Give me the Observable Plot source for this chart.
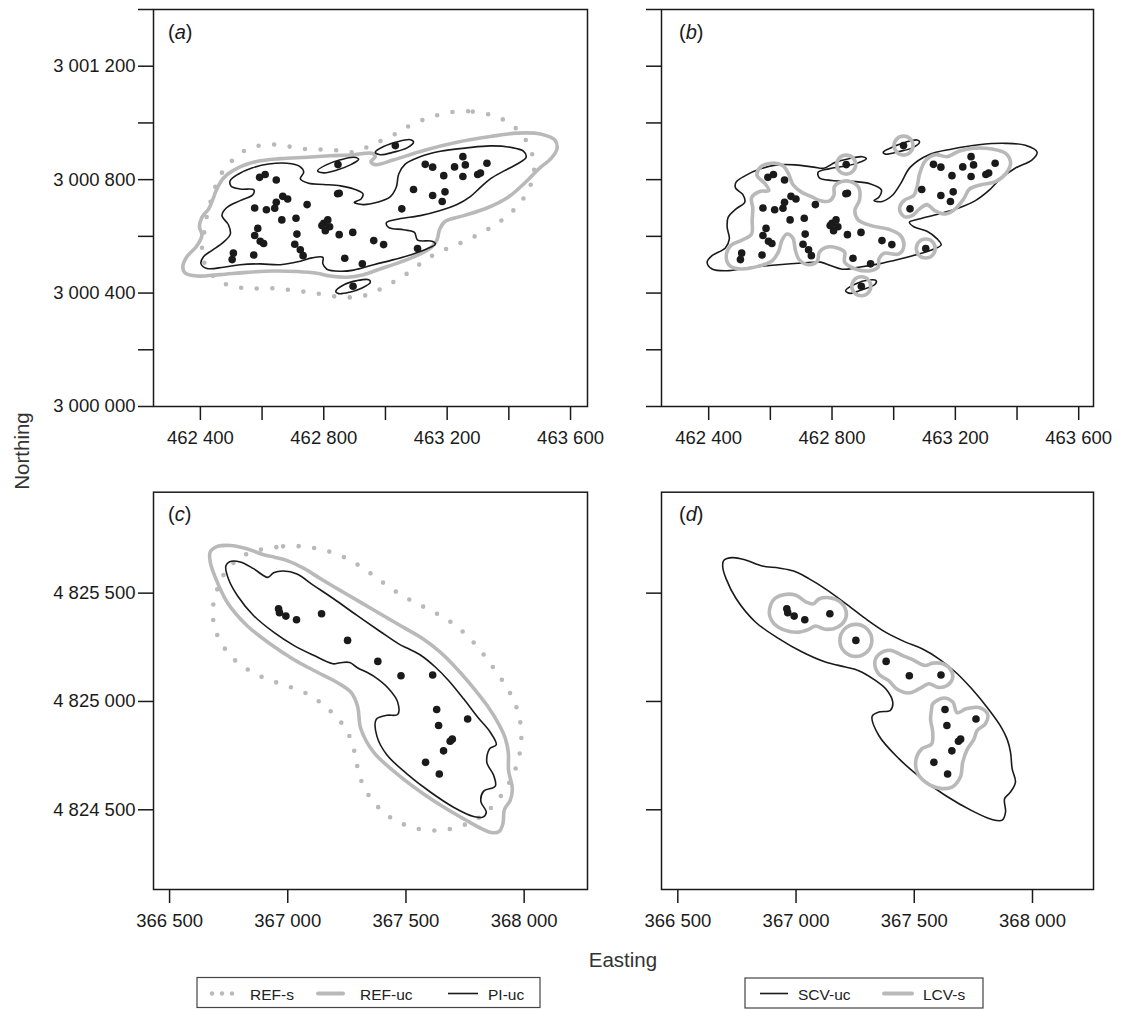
<!DOCTYPE html>
<html><head><meta charset="utf-8">
<script src="https://cdn.jsdelivr.net/npm/d3@7"></script>
<script src="https://cdn.jsdelivr.net/npm/@observablehq/plot@0.6"></script>
<style>
html,body{margin:0;padding:0;background:#fff;}
#fig{position:relative;width:1126px;height:1009px;overflow:hidden;background:#fff;font-family:"Liberation Sans",Arial,sans-serif;}
#fig > svg{position:absolute;}
</style></head><body><div id="fig"></div>
<script>
// ---------- tick values ----------
const xTicksAB = [462400, 462600, 462800, 463000, 463200, 463400, 463600];
const xLabelsAB = [462400, 462800, 463200, 463600];
const yTicksAB = [3000000, 3000200, 3000400, 3000600, 3000800, 3001000, 3001200, 3001400];
const yLabelsAB = [3000000, 3000400, 3000800, 3001200];
const xTicksCD = [366500, 367000, 367500, 368000];
const yTicksCD = [4824500, 4825000, 4825500];

// ---------- relocation points (Easting, Northing) ----------
const pointsAB = [[463032,3000920],[462846,3000853],[462895,3000424],[462592,3000808],[462610,3000818],[462646,3000799],[462845,3000750],[462850,3000752],[462667,3000741],[462683,3000732],[462646,3000720],[462641,3000699],[462576,3000700],[462614,3000694],[462746,3000712],[462664,3000658],[462710,3000664],[462586,3000628],[462576,3000603],[462594,3000583],[462605,3000575],[462713,3000608],[462706,3000572],[462724,3000553],[462733,3000532],[462573,3000534],[462507,3000541],[462503,3000518],[462800,3000646],[462813,3000658],[462819,3000634],[462805,3000620],[462794,3000638],[462850,3000606],[462894,3000614],[462868,3000523],[462925,3000503],[462962,3000585],[462994,3000571],[463104,3000557],[463053,3000697],[463091,3000765],[463129,3000854],[463153,3000844],[463189,3000814],[463224,3000845],[463251,3000881],[463259,3000852],[463251,3000811],[463299,3000818],[463308,3000823],[463329,3000858],[463153,3000744],[463193,3000757],[463184,3000723]];
const pointsCD = [[366961,4825428],[366965,4825410],[366992,4825394],[367037,4825377],[367143,4825405],[367253,4825282],[367381,4825185],[367479,4825119],[367613,4825122],[367630,4824963],[367638,4824889],[367761,4824919],[367687,4824816],[367696,4824826],[367659,4824772],[367583,4824719],[367641,4824665]];

// ---------- panel (a) contours ----------
const refS_a = [[463230,3001040],[463283,3001040],[463335,3001030],[463383,3001011],[463427,3000977],[463459,3000932],[463478,3000879],[463481,3000820],[463464,3000765],[463437,3000718],[463400,3000677],[463356,3000641],[463311,3000612],[463264,3000587],[463216,3000564],[463167,3000541],[463124,3000512],[463081,3000477],[463037,3000446],[462991,3000418],[462942,3000394],[462891,3000385],[462837,3000388],[462787,3000397],[462735,3000405],[462681,3000412],[462630,3000417],[462576,3000416],[462524,3000420],[462473,3000436],[462432,3000471],[462405,3000534],[462410,3000591],[462417,3000650],[462434,3000726],[462464,3000814],[462495,3000858],[462535,3000897],[462583,3000918],[462635,3000924],[462686,3000917],[462738,3000908],[462792,3000906],[462846,3000903],[462897,3000897],[462962,3000926],[463032,3000961],[463078,3000990],[463127,3001013],[463178,3001030]];
const refUC_a = [[462343,3000491],[462356,3000528],[462387,3000564],[462405,3000603],[462397,3000634],[462405,3000667],[462427,3000697],[462441,3000732],[462452,3000764],[462475,3000806],[462519,3000840],[462583,3000864],[462659,3000874],[462746,3000879],[462821,3000884],[462897,3000888],[462956,3000893],[462967,3000881],[462953,3000864],[462967,3000853],[463027,3000870],[463124,3000903],[463232,3000932],[463340,3000952],[463427,3000964],[463502,3000961],[463549,3000940],[463556,3000908],[463537,3000875],[463497,3000838],[463454,3000791],[463400,3000740],[463329,3000700],[463254,3000673],[463194,3000653],[463176,3000626],[463167,3000587],[463151,3000564],[463113,3000538],[463048,3000509],[462983,3000485],[462929,3000465],[462875,3000456],[462821,3000460],[462778,3000470],[462713,3000476],[462637,3000478],[462551,3000473],[462464,3000465],[462389,3000460],[462351,3000470]];
const piUC_a = [[462402,3000503],[462410,3000528],[462437,3000550],[462473,3000578],[462497,3000608],[462491,3000641],[462470,3000673],[462484,3000700],[462529,3000726],[462570,3000747],[462573,3000764],[462529,3000767],[462499,3000778],[462497,3000797],[462524,3000820],[462567,3000841],[462621,3000855],[462681,3000858],[462722,3000847],[462735,3000826],[462724,3000803],[462751,3000787],[462800,3000783],[462854,3000778],[462897,3000767],[462927,3000750],[462921,3000732],[462899,3000720],[462927,3000712],[462973,3000720],[463014,3000738],[463035,3000773],[463043,3000820],[463064,3000855],[463108,3000879],[463178,3000900],[463264,3000912],[463340,3000919],[463405,3000914],[463448,3000900],[463456,3000879],[463427,3000855],[463383,3000830],[463340,3000803],[463306,3000771],[463275,3000740],[463232,3000712],[463178,3000691],[463113,3000673],[463043,3000661],[463003,3000648],[463010,3000632],[463059,3000623],[463094,3000614],[463104,3000587],[463151,3000583],[463162,3000573],[463135,3000556],[463086,3000536],[463027,3000518],[462962,3000500],[462897,3000481],[462854,3000477],[462810,3000484],[462797,3000503],[462797,3000526],[462762,3000524],[462724,3000512],[462659,3000500],[462594,3000503],[462529,3000500],[462475,3000491],[462421,3000487]];
const piUC_a_isl1 = [[462967,3000897],[462994,3000917],[463037,3000933],[463081,3000941],[463091,3000933],[463070,3000912],[463027,3000897],[462983,3000888]];
const piUC_a_isl2 = [[462780,3000832],[462810,3000853],[462854,3000870],[462897,3000879],[462913,3000872],[462886,3000852],[462843,3000834],[462800,3000824]];
const piUC_a_isl3 = [[462839,3000406],[462867,3000430],[462908,3000444],[462946,3000447],[462951,3000438],[462924,3000418],[462884,3000403],[462848,3000398]];

// ---------- panel (b) contours ----------
const scvUC_b = [[462395,3000509],[462411,3000532],[462454,3000559],[462467,3000591],[462460,3000632],[462463,3000667],[462489,3000697],[462517,3000720],[462511,3000747],[462487,3000771],[462489,3000791],[462519,3000814],[462568,3000838],[462622,3000852],[462681,3000852],[462741,3000844],[462773,3000840],[462811,3000861],[462854,3000874],[462898,3000881],[462911,3000874],[462887,3000860],[462844,3000848],[462790,3000838],[462755,3000826],[462759,3000806],[462800,3000797],[462865,3000794],[462925,3000785],[462960,3000764],[462952,3000738],[462936,3000726],[462963,3000723],[462995,3000744],[463022,3000785],[463054,3000844],[463114,3000888],[463190,3000908],[463276,3000923],[463363,3000928],[463427,3000921],[463465,3000897],[463449,3000870],[463395,3000841],[463346,3000803],[463308,3000761],[463265,3000726],[463211,3000700],[463146,3000679],[463081,3000661],[463051,3000650],[463065,3000634],[463108,3000618],[463141,3000591],[463154,3000570],[463125,3000553],[463076,3000536],[463017,3000519],[462952,3000503],[462887,3000491],[462833,3000484],[462795,3000497],[462763,3000509],[462703,3000506],[462627,3000500],[462541,3000491],[462465,3000479],[462411,3000485]];
const scvUC_b_isl1 = [[462966,3000897],[462995,3000914],[463038,3000932],[463076,3000940],[463084,3000933],[463060,3000912],[463017,3000899],[462973,3000890]];
const scvUC_b_isl2 = [[462844,3000408],[462876,3000432],[462919,3000446],[462943,3000444],[462939,3000430],[462900,3000413],[462860,3000399]];
const lcvS_b_main = [[462457,3000526],[462471,3000567],[462509,3000587],[462539,3000608],[462541,3000656],[462543,3000700],[462539,3000736],[462568,3000759],[462595,3000761],[462582,3000787],[462557,3000814],[462568,3000844],[462604,3000858],[462640,3000850],[462658,3000823],[462673,3000783],[462701,3000756],[462733,3000740],[462763,3000726],[462790,3000724],[462806,3000744],[462808,3000776],[462831,3000793],[462860,3000793],[462887,3000771],[462889,3000728],[462874,3000691],[462885,3000658],[462930,3000637],[462984,3000625],[463022,3000603],[463033,3000567],[463017,3000538],[462968,3000540],[462952,3000520],[462950,3000493],[462925,3000479],[462876,3000485],[462841,3000509],[462841,3000544],[462817,3000559],[462779,3000561],[462759,3000544],[462752,3000512],[462725,3000500],[462694,3000517],[462681,3000552],[462673,3000594],[462654,3000608],[462638,3000587],[462627,3000547],[462606,3000514],[462562,3000495],[462508,3000485],[462471,3000494]];
const lcvS_b_right = [[463019,3000697],[463033,3000726],[463065,3000744],[463076,3000776],[463084,3000820],[463103,3000867],[463135,3000888],[463173,3000881],[463211,3000900],[463260,3000911],[463319,3000908],[463363,3000893],[463379,3000861],[463365,3000823],[463330,3000793],[463281,3000781],[463246,3000767],[463227,3000732],[463200,3000697],[463168,3000679],[463133,3000691],[463108,3000712],[463084,3000697],[463060,3000673],[463033,3000670]];
const lcvS_b_circles = [[463032,3000920],[462846,3000853],[462895,3000424],[463104,3000557]];

// ---------- panel (c) contours ----------
const refS_c = [[366912,4825705],[366980,4825716],[367047,4825717],[367115,4825708],[367181,4825690],[367246,4825662],[367305,4825625],[367362,4825582],[367418,4825537],[367476,4825494],[367535,4825459],[367596,4825425],[367656,4825390],[367713,4825348],[367765,4825297],[367810,4825243],[367852,4825182],[367893,4825120],[367930,4825059],[367962,4824989],[367981,4824920],[367988,4824843],[367983,4824771],[367966,4824697],[367938,4824628],[367903,4824566],[367859,4824508],[367800,4824458],[367741,4824428],[367673,4824409],[367607,4824405],[367539,4824415],[367476,4824440],[367417,4824478],[367367,4824531],[367329,4824591],[367302,4824662],[367288,4824736],[367273,4824806],[367243,4824877],[367199,4824936],[367150,4824985],[367094,4825028],[367030,4825059],[366965,4825083],[366901,4825108],[366839,4825142],[366782,4825185],[366737,4825239],[366703,4825303],[366685,4825373],[366685,4825448],[366703,4825522],[366736,4825597],[366792,4825659],[366853,4825693]];
const refUC_c = [[366672,4825690],[366703,4825716],[366757,4825720],[366827,4825705],[366898,4825677],[366947,4825665],[367003,4825648],[367070,4825613],[367144,4825563],[367229,4825508],[367314,4825454],[367398,4825400],[367483,4825346],[367567,4825293],[367645,4825228],[367718,4825148],[367786,4825062],[367845,4824979],[367892,4824897],[367920,4824831],[367933,4824763],[367934,4824682],[367950,4824597],[367941,4824543],[367917,4824502],[367910,4824435],[367896,4824402],[367868,4824394],[367821,4824412],[367751,4824454],[367666,4824508],[367567,4824579],[367462,4824666],[367363,4824766],[367309,4824874],[367295,4824979],[367267,4825043],[367211,4825086],[367123,4825136],[367025,4825194],[366926,4825265],[366827,4825351],[366745,4825456],[366693,4825574],[366672,4825644]];
const piUC_c = [[366738,4825625],[366754,4825645],[366799,4825644],[366855,4825613],[366916,4825573],[366940,4825594],[366982,4825602],[367039,4825588],[367109,4825536],[367194,4825474],[367293,4825397],[367391,4825323],[367469,4825266],[367511,4825243],[367567,4825210],[367624,4825159],[367680,4825097],[367744,4825012],[367803,4824928],[367856,4824859],[367882,4824800],[367854,4824782],[367842,4824720],[367871,4824659],[367878,4824609],[367828,4824585],[367817,4824538],[367840,4824489],[367825,4824466],[367786,4824469],[367701,4824512],[367603,4824582],[367504,4824666],[367419,4824754],[367377,4824840],[367374,4824917],[367419,4824936],[367465,4824940],[367465,4824997],[367427,4825059],[367363,4825117],[367293,4825157],[367262,4825180],[367222,4825179],[367191,4825174],[367109,4825213],[367025,4825259],[366940,4825320],[366855,4825397],[366788,4825487],[366750,4825563]];

// ---------- panel (d) contours ----------
const scvUC_d = [[366694,4825651],[366732,4825664],[366786,4825653],[366857,4825625],[366927,4825616],[366990,4825602],[367054,4825567],[367124,4825520],[367209,4825453],[367294,4825382],[367378,4825320],[367463,4825274],[367533,4825243],[367604,4825197],[367674,4825136],[367745,4825056],[367815,4824963],[367865,4824886],[367893,4824825],[367907,4824766],[367914,4824689],[367928,4824628],[367907,4824582],[367882,4824551],[367886,4824489],[367872,4824452],[367829,4824455],[367745,4824495],[367632,4824566],[367533,4824643],[367435,4824736],[367350,4824843],[367322,4824932],[367350,4824951],[367399,4824959],[367409,4824997],[367381,4825056],[367329,4825102],[367265,4825142],[367209,4825159],[367124,4825182],[367026,4825228],[366927,4825290],[366828,4825367],[366747,4825474],[366704,4825567],[366690,4825621]];
const lcvS_d_1 = [[366888,4825425],[366906,4825471],[366948,4825493],[367000,4825490],[367043,4825459],[367071,4825450],[367099,4825474],[367141,4825479],[367184,4825462],[367212,4825416],[367206,4825374],[367174,4825342],[367124,4825333],[367082,4825348],[367054,4825333],[367009,4825320],[366955,4825328],[366907,4825359],[366889,4825394]];
const lcvS_d_3 = [[367333,4825182],[367353,4825220],[367399,4825236],[367449,4825213],[367491,4825194],[367545,4825166],[367578,4825177],[367621,4825174],[367653,4825148],[367663,4825111],[367639,4825074],[367601,4825065],[367562,4825082],[367522,4825059],[367477,4825039],[367428,4825056],[367392,4825096],[367350,4825126]];
const lcvS_d_4 = [[367578,4824989],[367625,4825016],[367663,4824997],[367681,4824948],[367719,4824966],[367773,4824972],[367810,4824942],[367801,4824897],[367766,4824866],[367752,4824825],[367724,4824779],[367705,4824720],[367695,4824651],[367660,4824605],[367604,4824600],[367547,4824628],[367512,4824674],[367508,4824736],[367533,4824782],[367573,4824803],[367578,4824859],[367569,4824917],[367573,4824963]];
const lcvS_d_circle = [[367253,4825282]];

// ---------- drawing ----------
const fig = document.getElementById("fig");
const FONT = '"Liberation Sans", Arial, Helvetica, sans-serif';
const INK = "#1a1a1a", GRAY = "#b9b9b9";
const fmt = v => d3.format(",")(v).replace(/,/g, " ");
const xy = {x: d => d[0], y: d => d[1]};
const closed = (data, o) => Plot.line(data, {...xy, curve: "catmull-rom-closed", fill: "none", strokeLinejoin: "round", ...o});
const dotted = {stroke: GRAY, strokeWidth: 4.6, strokeDasharray: "0 15.6", strokeLinecap: "round"};
const grayS = {stroke: GRAY, strokeWidth: 3.6};
const blackS = {stroke: INK, strokeWidth: 1.6};
const pts = d => Plot.dot(d, {...xy, r: 3.8, fill: INK, stroke: "none"});

function panel(o) {
  const chart = Plot.plot({
    width: o.width, height: o.height,
    marginLeft: o.mL, marginRight: o.mR, marginTop: o.mT, marginBottom: o.mB,
    x: {domain: o.xDomain}, y: {domain: o.yDomain},
    style: {fontFamily: FONT, fontSize: "18.5px", color: INK, background: "transparent", overflow: "visible"},
    marks: [
      ...o.marks,
      Plot.frame({stroke: INK, strokeWidth: 1.5}),
      Plot.axisX({ticks: o.xTicks, tickSize: 14, tickPadding: 10, strokeWidth: 1.5, label: null,
        tickFormat: v => o.xLabels.includes(v) ? fmt(v) : ""}),
      Plot.axisY({ticks: o.yTicks, tickSize: 15, tickPadding: 3, strokeWidth: 1.5, label: null,
        tickFormat: v => (o.showY && o.yLabels.includes(v)) ? fmt(v) : ""})
    ]
  });
  chart.style.left = o.left + "px";
  chart.style.top = o.top + "px";
  fig.appendChild(chart);
}

// (a)
panel({left: 0, top: 0, width: 600, height: 450, mL: 153, mR: 13, mT: 9, mB: 44,
  xDomain: [462248, 463655], yDomain: [3000000, 3001400],
  xTicks: xTicksAB, xLabels: xLabelsAB, yTicks: yTicksAB, yLabels: yLabelsAB, showY: true,
  marks: [closed(refS_a, dotted), closed(refUC_a, grayS),
    closed(piUC_a, blackS), closed(piUC_a_isl1, blackS), closed(piUC_a_isl2, blackS), closed(piUC_a_isl3, blackS),
    pts(pointsAB)]});
// (b)
panel({left: 600, top: 0, width: 526, height: 450, mL: 61, mR: 33, mT: 9, mB: 44,
  xDomain: [462247, 463648], yDomain: [3000000, 3001400],
  xTicks: xTicksAB, xLabels: xLabelsAB, yTicks: yTicksAB, yLabels: yLabelsAB, showY: false,
  marks: [closed(scvUC_b, blackS), closed(scvUC_b_isl1, blackS), closed(scvUC_b_isl2, blackS),
    closed(lcvS_b_main, grayS), closed(lcvS_b_right, grayS),
    Plot.dot(lcvS_b_circles, {...xy, r: 9.5, fill: "none", ...grayS}),
    pts(pointsAB)]});
// (c)
panel({left: 0, top: 450, width: 600, height: 480, mL: 153, mR: 13, mT: 41.7, mB: 41,
  xDomain: [366432, 368268], yDomain: [4824132, 4825966],
  xTicks: xTicksCD, xLabels: xTicksCD, yTicks: yTicksCD, yLabels: yTicksCD, showY: true,
  marks: [closed(refS_c, dotted), closed(refUC_c, grayS), closed(piUC_c, blackS), pts(pointsCD)]});
// (d)
panel({left: 600, top: 450, width: 526, height: 480, mL: 61, mR: 33, mT: 41.7, mB: 41,
  xDomain: [366431, 368258], yDomain: [4824132, 4825966],
  xTicks: xTicksCD, xLabels: xTicksCD, yTicks: yTicksCD, yLabels: yTicksCD, showY: false,
  marks: [closed(scvUC_d, blackS), closed(lcvS_d_1, grayS), closed(lcvS_d_3, grayS), closed(lcvS_d_4, grayS),
    Plot.dot(lcvS_d_circle, {...xy, r: 16, fill: "none", ...grayS}),
    pts(pointsCD)]});

// ---------- annotations: panel letters, axis titles, legends ----------
const ov = d3.select(fig).append("svg").attr("width", 1126).attr("height", 1009)
  .style("left", "0px").style("top", "0px").style("pointer-events", "none")
  .style("font-family", FONT);

const panelLetters = [["a", 168, 38.5], ["b", 679, 38.5], ["c", 168, 521], ["d", 679, 521]];
panelLetters.forEach(([l, x, y]) => {
  const t = ov.append("text").attr("x", x).attr("y", y).attr("font-size", 20).attr("fill", INK);
  t.append("tspan").text("(");
  t.append("tspan").attr("font-style", "italic").text(l);
  t.append("tspan").text(")");
});

ov.append("text").attr("transform", "translate(29,451) rotate(-90)").attr("text-anchor", "middle")
  .attr("font-size", 20.5).attr("fill", "#333").text("Northing");
ov.append("text").attr("x", 623).attr("y", 967).attr("text-anchor", "middle")
  .attr("font-size", 20.5).attr("fill", "#333").text("Easting");

// legend boxes
const legY = 993.5;
ov.append("rect").attr("x", 197).attr("y", 977.5).attr("width", 343).attr("height", 30)
  .attr("fill", "white").attr("stroke", "#444").attr("stroke-width", 1.2);
ov.append("rect").attr("x", 745).attr("y", 978).attr("width", 238).attr("height", 30)
  .attr("fill", "white").attr("stroke", "#444").attr("stroke-width", 1.2);

[212, 222, 232].forEach(cx => ov.append("circle").attr("cx", cx).attr("cy", legY).attr("r", 2.2).attr("fill", GRAY));
ov.append("line").attr("x1", 318).attr("x2", 343).attr("y1", legY).attr("y2", legY).attr("stroke", GRAY).attr("stroke-width", 4).attr("stroke-linecap", "round");
ov.append("line").attr("x1", 448).attr("x2", 478).attr("y1", legY).attr("y2", legY).attr("stroke", INK).attr("stroke-width", 1.6);
ov.append("line").attr("x1", 760).attr("x2", 788).attr("y1", legY).attr("y2", legY).attr("stroke", INK).attr("stroke-width", 1.6);
ov.append("line").attr("x1", 884).attr("x2", 912).attr("y1", legY).attr("y2", legY).attr("stroke", GRAY).attr("stroke-width", 4).attr("stroke-linecap", "round");

const legTexts = [["REF-s", 250], ["REF-uc", 360], ["PI-uc", 488], ["SCV-uc", 798], ["LCV-s", 923]];
legTexts.forEach(([s, x]) => ov.append("text").attr("x", x).attr("y", 999.5)
  .attr("font-size", 15.5).attr("fill", "#222").text(s));
</script></body></html>
